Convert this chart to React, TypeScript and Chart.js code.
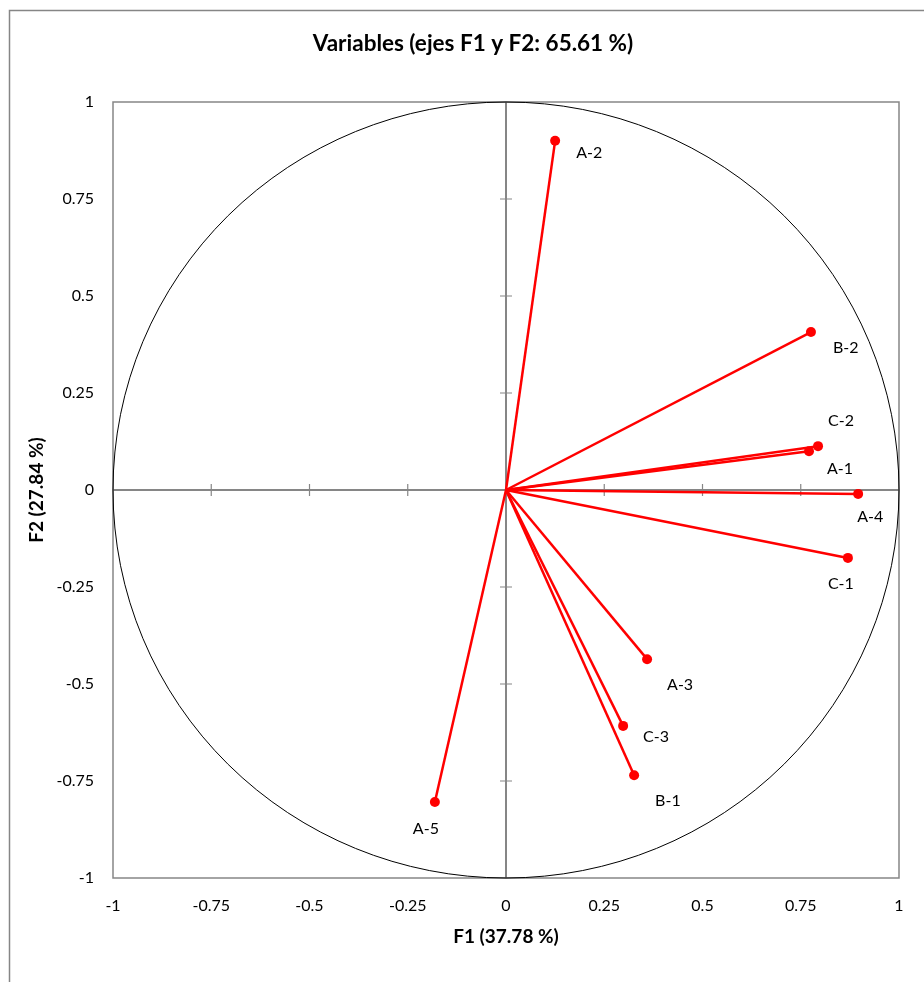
import React, { useEffect, useRef } from "react";
import { Chart, registerables } from "chart.js";

Chart.register(...registerables);

const TITLE = "Variables (ejes F1 y F2: 65.61 %)";
const X_TITLE = "F1 (37.78 %)";
const Y_TITLE = "F2 (27.84 %)";

const variables = ["A-1", "A-2", "A-3", "A-4", "A-5", "B-1", "B-2", "C-1", "C-2", "C-3"];
const f1 = [0.771, 0.125, 0.359, 0.896, -0.181, 0.326, 0.776, 0.87, 0.794, 0.298];
const f2 = [0.1, 0.9, -0.436, -0.01, -0.804, -0.735, 0.407, -0.175, 0.113, -0.608];

const tickValues = [-1, -0.75, -0.5, -0.25, 0, 0.25, 0.5, 0.75, 1];
const tickLabels = ["-1", "-0.75", "-0.5", "-0.25", "0", "0.25", "0.5", "0.75", "1"];

const axisMin = -1;
const axisMax = 1;
const axisStep = 0.25;

// label placement (pixels relative to point), layout only
const labelOffsets: Record<string, [number, number]> = {
  "A-1": [18, 18],
  "A-2": [21, 12],
  "A-3": [20, 26],
  "A-4": [-1, 23],
  "A-5": [-22, 27],
  "B-1": [21, 26],
  "B-2": [22, 16],
  "C-1": [-20, 26],
  "C-2": [10, -25],
  "C-3": [20, 11],
};

const FONT = "Lato, 'Open Sans', sans-serif";
const RED = "#FF0000";
const GRAY = "#868686";

function fmtTick(value: number) {
  const idx = tickValues.findIndex((v) => Math.abs(v - value) < 1e-9);
  return idx >= 0 ? tickLabels[idx] : "";
}

const decorPlugin = {
  id: "pcaDecor",
  beforeDraw(chart: any) {
    const { ctx, width, height } = chart;
    ctx.save();
    ctx.fillStyle = "#ffffff";
    ctx.fillRect(0, 0, width, height);
    ctx.strokeStyle = GRAY;
    ctx.lineWidth = 1.5;
    ctx.strokeRect(9.5, 10.5, width + 20, height + 20);
    // chart title (centred on the full chart frame, which extends past the picture)
    ctx.fillStyle = "#000000";
    ctx.font = `bold 22.5px ${FONT}`;
    ctx.textAlign = "center";
    ctx.textBaseline = "middle";
    ctx.fillText(TITLE, 473, 44);
    ctx.restore();
  },
  beforeDatasetsDraw(chart: any) {
    const { ctx, chartArea } = chart;
    const xs = chart.scales.x;
    const ys = chart.scales.y;
    const x0 = xs.getPixelForValue(0);
    const y0 = ys.getPixelForValue(0);
    ctx.save();
    ctx.strokeStyle = GRAY;
    ctx.lineWidth = 1.5;
    ctx.strokeRect(chartArea.left, chartArea.top, chartArea.right - chartArea.left, chartArea.bottom - chartArea.top);
    ctx.lineWidth = 2;
    ctx.beginPath();
    ctx.moveTo(chartArea.left, y0);
    ctx.lineTo(chartArea.right, y0);
    ctx.moveTo(x0, chartArea.top);
    ctx.lineTo(x0, chartArea.bottom);
    ctx.stroke();
    ctx.lineWidth = 1.2;
    ctx.beginPath();
    for (const t of xs.ticks) {
      if (t.value === axisMin || t.value === axisMax || t.value === 0) continue;
      const px = xs.getPixelForValue(t.value);
      ctx.moveTo(px, y0 - 6);
      ctx.lineTo(px, y0 + 6);
    }
    for (const t of ys.ticks) {
      if (t.value === axisMin || t.value === axisMax || t.value === 0) continue;
      const py = ys.getPixelForValue(t.value);
      ctx.moveTo(x0 - 6, py);
      ctx.lineTo(x0 + 6, py);
    }
    ctx.stroke();
    const rx = xs.getPixelForValue(1) - x0;
    const ry = y0 - ys.getPixelForValue(1);
    ctx.strokeStyle = "#000000";
    ctx.lineWidth = 1;
    ctx.beginPath();
    ctx.ellipse(x0, y0, rx, ry, 0, 0, Math.PI * 2);
    ctx.stroke();
    ctx.restore();
  },
  afterDatasetsDraw(chart: any) {
    const { ctx } = chart;
    const xs = chart.scales.x;
    const ys = chart.scales.y;
    ctx.save();
    ctx.fillStyle = "#000000";
    ctx.font = `16px ${FONT}`;
    ctx.textAlign = "left";
    ctx.textBaseline = "middle";
    variables.forEach((name, i) => {
      const px = xs.getPixelForValue(f1[i]);
      const py = ys.getPixelForValue(f2[i]);
      const off = labelOffsets[name] || [20, 14];
      ctx.fillText(name, px + off[0], py + off[1]);
    });
    ctx.restore();
  },
};

export default function App() {
  const ref = useRef<HTMLCanvasElement | null>(null);
  useEffect(() => {
    if (!ref.current) return;
    const datasets = variables.map((name, i) => ({
      label: name,
      data: [
        { x: 0, y: 0 },
        { x: f1[i], y: f2[i] },
      ],
      showLine: true,
      borderColor: RED,
      backgroundColor: RED,
      borderWidth: 2.5,
      pointRadius: [0, 5],
      pointBorderWidth: 0,
      pointBackgroundColor: RED,
      clip: false,
    }));
    const chart = new Chart(ref.current, {
      type: "scatter",
      data: { datasets },
      plugins: [decorPlugin],
      options: {
        animation: false,
        responsive: false,
        layout: { padding: { left: 0, right: 25, top: 102, bottom: 0 } },
        plugins: {
          legend: { display: false },
          tooltip: { enabled: false },
          title: { display: false },
        },
        scales: {
          x: {
            type: "linear",
            min: axisMin,
            max: axisMax,
            grid: { display: false, drawTicks: false },
            border: { display: false },
            ticks: {
              stepSize: axisStep,
              autoSkip: false,
              maxRotation: 0,
              padding: 18,
              color: "#000000",
              font: { family: FONT, size: 16 },
              callback: (v: any) => fmtTick(Number(v)),
            },
            title: {
              display: true,
              text: X_TITLE,
              color: "#000000",
              font: { family: FONT, size: 19, weight: "bold", lineHeight: 1.2 },
              padding: { top: 0, bottom: 45 - 19 * 0.6 },
            },
            afterFit(scale: any) {
              scale.height = 104;
            },
          },
          y: {
            type: "linear",
            min: axisMin,
            max: axisMax,
            grid: { display: false, drawTicks: false },
            border: { display: false },
            ticks: {
              stepSize: axisStep,
              autoSkip: false,
              padding: 19,
              color: "#000000",
              font: { family: FONT, size: 16 },
              callback: (v: any) => fmtTick(Number(v)),
            },
            title: {
              display: true,
              text: Y_TITLE,
              color: "#000000",
              font: { family: FONT, size: 19, weight: "bold", lineHeight: 1.2 },
              padding: { top: 37 - 19 * 0.6, bottom: 0 },
            },
            afterFit(scale: any) {
              scale.width = 113;
            },
          },
        },
      } as any,
    });
    return () => chart.destroy();
  }, []);
  return (
    <div style={{ position: "fixed", left: 0, top: 0, width: 924, height: 982, overflow: "hidden" }}>
      <canvas ref={ref} width={924} height={982} style={{ display: "block" }} />
    </div>
  );
}
